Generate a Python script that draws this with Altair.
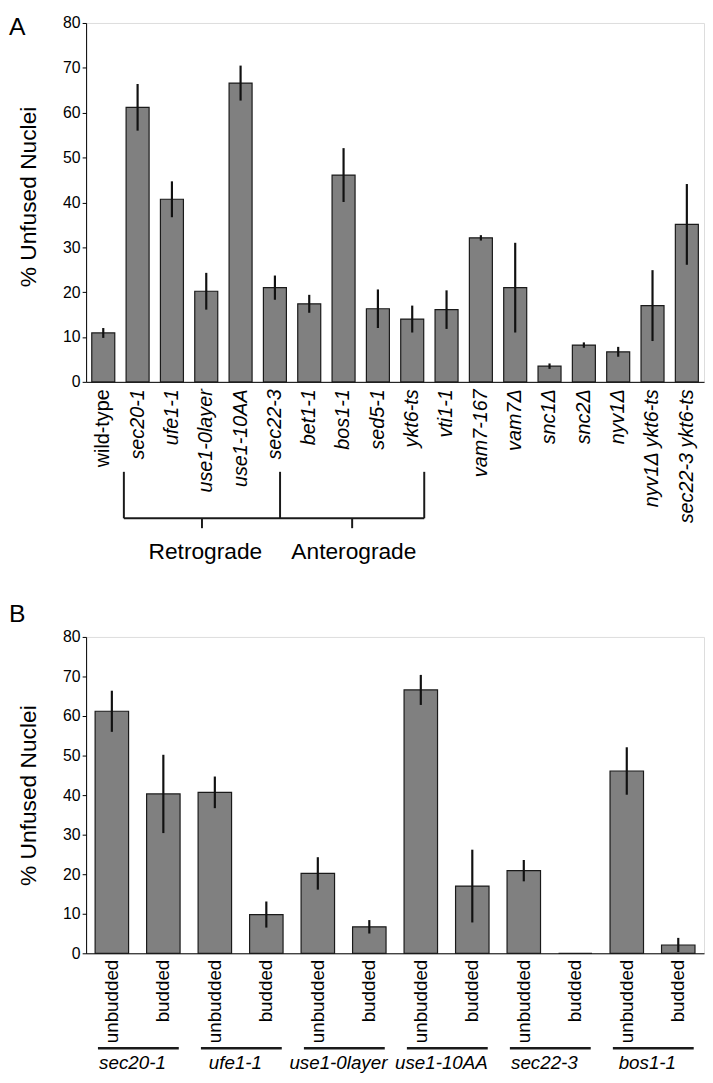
import altair as alt
import pandas as pd

# ---------------- data: panel A ----------------
strains_a = ["wild-type", "sec20-1", "ufe1-1", "use1-0layer", "use1-10AA", "sec22-3",
             "bet1-1", "bos1-1", "sed5-1", "ykt6-ts", "vti1-1", "vam7-167", "vam7Δ",
             "snc1Δ", "snc2Δ", "nyv1Δ", "nyv1Δ ykt6-ts", "sec22-3 ykt6-ts"]
unfused_a = [10.9, 61.2, 40.7, 20.2, 66.6, 21.0, 17.4, 46.1, 16.3, 14.0, 16.1, 32.1, 21.0,
             3.5, 8.2, 6.7, 17.0, 35.1]
error_a = [1.1, 5.2, 4.0, 4.1, 3.9, 2.7, 2.0, 6.0, 4.3, 3.0, 4.3, 0.6, 10.0,
           0.6, 0.6, 1.1, 7.9, 9.0]
bracket_labels = ["Retrograde", "Anterograde"]
bracket_strains = ["sec20-1", "sec22-3", "ykt6-ts"]

# ---------------- data: panel B ----------------
mutants_b = ["sec20-1", "ufe1-1", "use1-0layer", "use1-10AA", "sec22-3", "bos1-1"]
states_b = ["unbudded", "budded"]
unfused_b = [61.2, 40.3, 40.7, 9.8, 20.2, 6.7, 66.6, 17.0, 20.9, 0.0, 46.1, 2.1]
error_b = [5.2, 9.9, 4.0, 3.3, 4.1, 1.7, 3.8, 9.2, 2.7, 0.0, 6.0, 1.8]

# ---------------- styling ----------------
FONT = "Liberation Sans"
W = 625
HA = 363
HB = 320
YMAX = 80
BAR_FILL = "#808080"
BAR_STROKE = "#1a1a1a"
TITLE = "% Unfused Nuclei"


def yscale():
    return alt.Scale(domain=[0, YMAX], nice=False, zero=False)


def y_axis(h, dy=0):
    return alt.Axis(values=list(range(0, YMAX + 1, 10)), title=TITLE, grid=False,
                    titleFont=FONT, titleFontSize=23, titleFontWeight="normal", titleColor="black",
                    titleAngle=270, titleAlign="center", titleBaseline="middle",
                    titleX=-58, titleY=h / 2 + dy,
                    labelFont=FONT, labelFontSize=16, labelColor="black", labelPadding=2,
                    labelOverlap=False,
                    tickSize=4, tickColor="black", tickWidth=1,
                    domainColor="black", domainWidth=1)


def letter(ch, dy):
    return alt.Chart(pd.DataFrame({"t": [ch]})).mark_text(
        font=FONT, fontSize=25, align="left", baseline="top", color="black"
    ).encode(x=alt.value(-78), y=alt.value(dy), text="t:N")


# ---------------- panel A ----------------
df_a = pd.DataFrame({"strain": strains_a, "value": unfused_a, "err": error_a})
df_a["lo"] = df_a["value"] - df_a["err"]
df_a["hi"] = df_a["value"] + df_a["err"]

italic_cond = {"condition": {"test": "datum.value == 'wild-type'", "value": "normal"},
               "value": "italic"}
axA = y_axis(HA, -6)

xA = alt.X("strain:N", sort=strains_a,
           scale=alt.Scale(paddingInner=0.33, paddingOuter=0.165),
           axis=alt.Axis(title=None, labelAngle=270, labelAlign="right", labelBaseline="middle",
                         labelFont=FONT, labelFontSize=20, labelColor="black",
                         labelFontStyle=italic_cond, labelPadding=7, ticks=False,
                         domainColor="black", labelLimit=300))

bars_a = alt.Chart(df_a).mark_bar(fill=BAR_FILL, stroke=BAR_STROKE, strokeWidth=1.2).encode(
    x=xA, y=alt.Y("value:Q", scale=yscale(), axis=axA))
errs_a = alt.Chart(df_a).mark_rule(color="#111111", strokeWidth=2.2).encode(
    x=alt.X("strain:N", sort=strains_a),
    y=alt.Y("lo:Q", scale=yscale(), axis=axA), y2="hi:Q")
core_a = alt.layer(bars_a, errs_a)

pxA = HA / YMAX
i1 = strains_a.index(bracket_strains[0]) + 0.1
i2 = strains_a.index(bracket_strains[1]) + 0.65
i3 = strains_a.index(bracket_strains[2]) + 0.85
m1 = (i1 + i2) / 2
m2 = (i2 + i3) / 2
y_top, y_bar, y_tick, y_text = -91 / pxA, -138 / pxA, -148 / pxA, -161 / pxA
segs = pd.DataFrame({
    "x0": [i1, i2, i3, i1, m1, m2],
    "x1": [i1, i2, i3, i3, m1, m2],
    "y0": [y_top, y_top, y_top, y_bar, y_bar, y_bar],
    "y1": [y_bar, y_bar, y_bar, y_bar, y_tick, y_tick],
})
xq_a = alt.Scale(domain=[0, len(strains_a)], nice=False, zero=False)
brk_a = alt.Chart(segs).mark_rule(color="#1a1a1a", strokeWidth=2).encode(
    x=alt.X("x0:Q", scale=xq_a, axis=None), x2="x1:Q",
    y=alt.Y("y0:Q", scale=yscale(), axis=axA), y2="y1:Q")
lab_df = pd.DataFrame({"label": bracket_labels, "x": [m1 + 0.1, m2 + 0.05], "y": [y_text, y_text]})
lab_a = alt.Chart(lab_df).mark_text(font=FONT, fontSize=23, baseline="top", align="center",
                                    color="black").encode(
    x=alt.X("x:Q", scale=xq_a, axis=None),
    y=alt.Y("y:Q", scale=yscale(), axis=axA), text="label:N")

panel_a = alt.layer(core_a, brk_a, lab_a, letter("A", -8)).resolve_scale(
    x="independent").properties(width=W, height=HA)

# ---------------- panel B ----------------
rows = []
k = 0
for g in mutants_b:
    for s in states_b:
        rows.append({"key": g + "|" + s, "group": g, "state": s,
                     "value": unfused_b[k], "err": error_b[k]})
        k += 1
df_b = pd.DataFrame(rows)
df_b["lo"] = df_b["value"] - df_b["err"]
df_b["hi"] = df_b["value"] + df_b["err"]
keys_b = list(df_b["key"])
axB = y_axis(HB)

xB = alt.X("key:N", sort=keys_b,
           scale=alt.Scale(paddingInner=0.35, paddingOuter=0.175),
           axis=alt.Axis(title=None, labelExpr="split(datum.value, '|')[1]",
                         labelAngle=270, labelAlign="right", labelBaseline="middle",
                         labelFont=FONT, labelFontSize=19, labelColor="black",
                         labelPadding=6, ticks=False, domainColor="black", labelLimit=300))

bars_b = alt.Chart(df_b).mark_bar(fill=BAR_FILL, stroke=BAR_STROKE, strokeWidth=1.2).encode(
    x=xB, y=alt.Y("value:Q", scale=yscale(), axis=axB))
errs_b = alt.Chart(df_b[df_b["err"] > 0]).mark_rule(color="#111111", strokeWidth=2.2).encode(
    x=alt.X("key:N", sort=keys_b),
    y=alt.Y("lo:Q", scale=yscale(), axis=axB), y2="hi:Q")
core_b = alt.layer(bars_b, errs_b)

pxB = HB / YMAX
nb = len(mutants_b)
under = pd.DataFrame({
    "group": mutants_b,
    "x0": [2 * j + 0.23 for j in range(nb)],
    "x1": [2 * j + 1.8 for j in range(nb)],
    "xc": [2 * j + 0.9 for j in range(nb)],
    "y": [-96 / pxB] * nb,
    "yt": [-102 / pxB] * nb,
})
xq_b = alt.Scale(domain=[0, 2 * nb], nice=False, zero=False)
ul_b = alt.Chart(under).mark_rule(color="#1a1a1a", strokeWidth=2.5).encode(
    x=alt.X("x0:Q", scale=xq_b, axis=None), x2="x1:Q",
    y=alt.Y("y:Q", scale=yscale(), axis=axB))
gl_b = alt.Chart(under).mark_text(font=FONT, fontSize=19, fontStyle="italic", baseline="top",
                                  align="center", color="black").encode(
    x=alt.X("xc:Q", scale=xq_b, axis=None),
    y=alt.Y("yt:Q", scale=yscale(), axis=axB), text="group:N")

panel_b = alt.layer(core_b, ul_b, gl_b, letter("B", -35)).resolve_scale(
    x="independent").properties(width=W, height=HB)

chart = alt.vconcat(panel_a, panel_b, spacing=37).properties(padding=0).configure_view(
    stroke="#333333", strokeWidth=1).configure(font=FONT)

chart.save("out.html", embed_options={"renderer": "svg", "actions": False})
